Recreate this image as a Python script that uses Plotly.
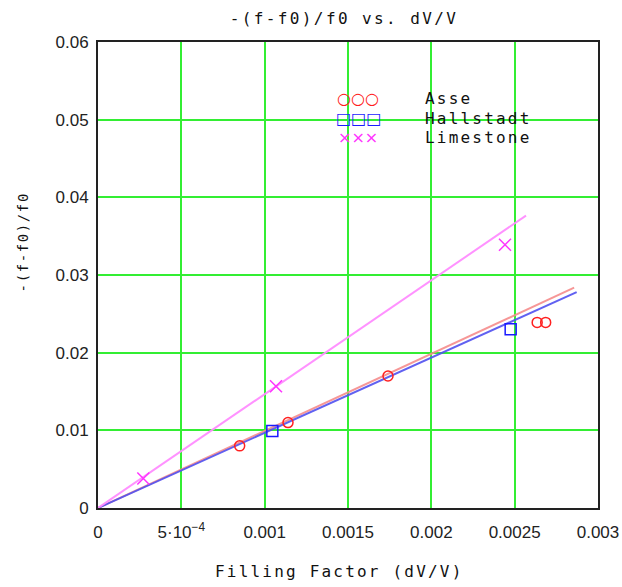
import plotly.graph_objects as go

# ---- data ----
asse_x = [0.00085, 0.00114, 0.00174, 0.002635, 0.002686]
asse_y = [0.0080, 0.0110, 0.0170, 0.0239, 0.0239]
hall_x = [0.001046, 0.002476]
hall_y = [0.0099, 0.0230]
lime_x = [0.000272, 0.001068, 0.002442]
lime_y = [0.0038, 0.01567, 0.0339]

# linear fits through origin: slope and end of fit range
asse_fit_slope, asse_fit_xmax = 9.93, 0.002857
hall_fit_slope, hall_fit_xmax = 9.68, 0.002872
lime_fit_slope, lime_fit_xmax = 14.66, 0.002568

x_tickvals = [0, 0.0005, 0.001, 0.0015, 0.002, 0.0025, 0.003]
x_ticktext = ["0", "5·10<sup>−4</sup>", "0.001", "0.0015", "0.002", "0.0025", "0.003"]
y_tickvals = [0, 0.01, 0.02, 0.03, 0.04, 0.05, 0.06]
y_ticktext = ["0", "0.01", "0.02", "0.03", "0.04", "0.05", "0.06"]

series_names = ["Asse", "Hallstadt", "Limestone"]

RED = "#ff2020"
BLUE = "#1a1aff"
MAG = "#ff33ff"
tick_font = dict(family="Liberation Sans Narrow, Liberation Sans, Arial", size=17, color="#222")
mono = "DejaVu Sans Mono, Liberation Mono, monospace"


def spaced(text, px):
    return '<span style="letter-spacing:%spx">%s</span>' % (px, text)


fig = go.Figure()


def fit_line(slope, xmax, color):
    xs = [0, xmax]
    ys = [slope * v for v in xs]
    fig.add_trace(go.Scatter(x=xs, y=ys, mode="lines", line=dict(color=color, width=2),
                             showlegend=False, hoverinfo="skip"))


fit_line(asse_fit_slope, asse_fit_xmax, "rgba(245,140,140,0.9)")
fit_line(hall_fit_slope, hall_fit_xmax, "rgba(80,80,240,0.9)")
fit_line(lime_fit_slope, lime_fit_xmax, "rgba(255,140,255,0.95)")

fig.add_trace(go.Scatter(x=asse_x, y=asse_y, mode="markers", name=series_names[0],
                         marker=dict(symbol="circle-open", size=10, color=RED, line=dict(width=1.5, color=RED))))
fig.add_trace(go.Scatter(x=hall_x, y=hall_y, mode="markers", name=series_names[1],
                         marker=dict(symbol="square-open", size=11, color=BLUE, line=dict(width=1.5, color=BLUE))))
fig.add_trace(go.Scatter(x=lime_x, y=lime_y, mode="markers", name=series_names[2],
                         marker=dict(symbol="x-thin-open", size=12, color=MAG, line=dict(width=1.5, color=MAG))))

fig.update_layout(
    width=622, height=587,
    margin=dict(l=98, r=24, t=42, b=79),
    paper_bgcolor="white", plot_bgcolor="white",
    showlegend=False,
    title=dict(text=spaced("-(f-f0)/f0 vs. dV/V", 2.4), x=0.553, xanchor="center", y=0.968, yanchor="middle",
               font=dict(family=mono, size=16, color="#111")),
)

fig.update_xaxes(range=[0, 0.003], tickvals=x_tickvals, ticktext=x_ticktext,
                 showgrid=True, gridcolor="#33ee33", gridwidth=2,
                 showline=True, linecolor="#222", linewidth=2, mirror=True,
                 zeroline=False, ticks="", tickfont=tick_font, ticklabelstandoff=8,
                 automargin=False)
fig.update_yaxes(range=[0, 0.06], tickvals=y_tickvals, ticktext=y_ticktext,
                 showgrid=True, gridcolor="#33ee33", gridwidth=2,
                 showline=True, linecolor="#222", linewidth=2, mirror=True,
                 zeroline=False, ticks="", tickfont=tick_font, ticklabelstandoff=4,
                 automargin=False)

# x-axis title
fig.add_annotation(text=spaced("Filling Factor (dV/V)", 2.2), xref="paper", yref="paper",
                   x=0.482, y=-0.137, xanchor="center", yanchor="middle", showarrow=False,
                   font=dict(family=mono, size=16, color="#111"))

# y-axis title (placed slightly above centre as in the reference)
fig.add_annotation(text=spaced("-(f-f0)/f0", 1.6), textangle=-90, xref="paper", yref="paper",
                   x=-0.15, y=0.57, xanchor="center", yanchor="middle", showarrow=False,
                   font=dict(family=mono, size=14, color="#111"))

# legend block
leg_syms = ["○○○", "□□□", "×××"]
leg_cols = [RED, BLUE, MAG]
leg_y = [0.878, 0.836, 0.795]
for name, sym, col, yy in zip(series_names, leg_syms, leg_cols, leg_y):
    fig.add_annotation(text=sym, xref="paper", yref="paper", x=0.52, y=yy, xanchor="center",
                       yanchor="middle", showarrow=False,
                       font=dict(family="DejaVu Sans", size=16, color=col))
    fig.add_annotation(text=spaced(name, 2.2), xref="paper", yref="paper", x=0.65, y=yy, xanchor="left",
                       yanchor="middle", showarrow=False,
                       font=dict(family=mono, size=16, color="#111"))

fig.write_html("out.html")
